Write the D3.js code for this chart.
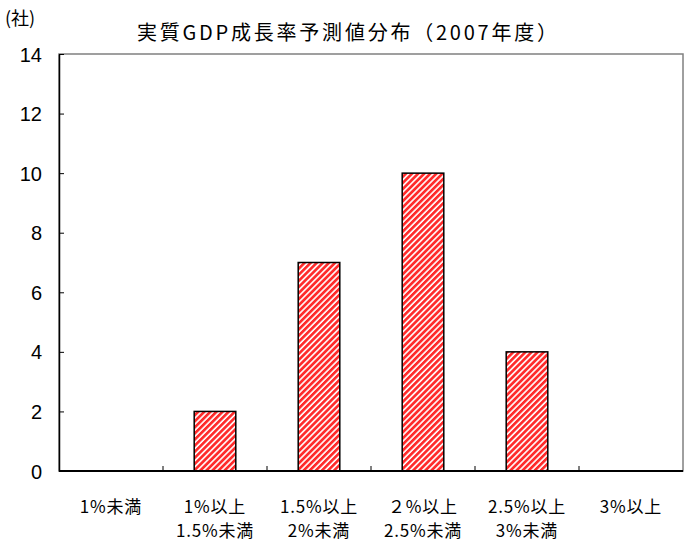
<!DOCTYPE html>
<html>
  <head>
    <meta charset="UTF-8">
    <title>実質GDP成長率予測値分布</title>
    <style>
      body {margin: 0; background: #fff;}
      svg {display: block; font-family: "Noto Sans CJK JP", sans-serif;}
      .tick text {font-size: 20px; fill: #000;}
    </style>
  </head>
  <body>
    <div id="chart"></div>
    <script src="https://d3js.org/d3.v7.min.js"></script>
    <script>

const categories = ["1%未満", "1%以上\n1.5%未満", "1.5%以上\n2%未満", "２%以上\n2.5%未満", "2.5%以上\n3%未満", "3%以上"];
const counts = [0, 2, 7, 10, 4, 0];
const yTicks = [0, 2, 4, 6, 8, 10, 12, 14];

const width = 688, height = 542;
const margin = {top: 54, right: 5, bottom: 71, left: 59};

const svg = d3.select("#chart").append("svg").attr("width", width).attr("height", height);

// striped fill like the original
const defs = svg.append("defs");
const pat = defs.append("pattern")
  .attr("id", "stripes")
  .attr("patternUnits", "userSpaceOnUse")
  .attr("width", 4.3).attr("height", 10)
  .attr("patternTransform", "rotate(45)");
pat.append("rect").attr("width", 4.3).attr("height", 10).attr("fill", "#fff");
pat.append("rect").attr("width", 2.7).attr("height", 10).attr("fill", "#ff2b2b");

const x = d3.scaleBand().domain(categories).range([margin.left, width - margin.right]).paddingInner(0).paddingOuter(0);
const y = d3.scaleLinear().domain([0, 14]).range([height - margin.bottom, margin.top]);

// plot frame
svg.append("rect")
  .attr("x", margin.left).attr("y", margin.top)
  .attr("width", width - margin.left - margin.right)
  .attr("height", height - margin.top - margin.bottom)
  .attr("fill", "none").attr("stroke", "#808080").attr("stroke-width", 1.5);

const barW = x.bandwidth() * 0.4;
svg.selectAll("rect.bar").data(counts.map((v, i) => ({cat: categories[i], v})).filter(d => d.v > 0))
  .join("rect")
  .attr("class", "bar")
  .attr("x", d => x(d.cat) + (x.bandwidth() - barW) / 2)
  .attr("y", d => y(d.v))
  .attr("width", barW)
  .attr("height", d => y(0) - y(d.v))
  .attr("fill", "url(#stripes)")
  .attr("stroke", "#000").attr("stroke-width", 1.5);

// y axis, ticks pointing inward
const yAxis = svg.append("g")
  .attr("transform", `translate(${margin.left},0)`)
  .call(d3.axisRight(y).tickValues(yTicks).tickSize(5).tickSizeOuter(0));
yAxis.select(".domain").attr("stroke", "#000").attr("stroke-width", 1.5);
yAxis.selectAll(".tick line").attr("stroke", "#000");
yAxis.selectAll(".tick text").attr("x", -17).attr("text-anchor", "end").attr("dy", "0.35em");

// x axis: ticks at category boundaries, pointing up
const bottom = y(0);
svg.append("line")
  .attr("x1", margin.left).attr("x2", width - margin.right)
  .attr("y1", bottom).attr("y2", bottom)
  .attr("stroke", "#000").attr("stroke-width", 2);
svg.selectAll("line.xtick").data(categories.slice(1))
  .join("line")
  .attr("class", "xtick")
  .attr("x1", d => x(d)).attr("x2", d => x(d))
  .attr("y1", bottom).attr("y2", bottom - 5)
  .attr("stroke", "#000");

// category labels, one text per line
const labelLines = [];
categories.forEach(c => c.split("\n").forEach((line, i) => labelLines.push({c, line, i})));
svg.selectAll("text.xlab").data(labelLines)
  .join("text")
  .attr("class", "xlab")
  .attr("text-anchor", "middle")
  .attr("font-size", 17)
  .attr("letter-spacing", 0.8)
  .attr("x", d => x(d.c) + x.bandwidth() / 2)
  .attr("y", d => 513 + d.i * 24)
  .text(d => d.line);

// titles
svg.append("text")
  .attr("x", 137).attr("y", 40)
  .attr("font-size", 20)
  .attr("textLength", 420)
  .attr("lengthAdjust", "spacing")
  .text("実質GDP成長率予測値分布（2007年度）");

svg.append("text")
  .attr("x", 5).attr("y", 25)
  .attr("font-size", 18)
  .text("(社)");

 </script>
  </body>
</html>
